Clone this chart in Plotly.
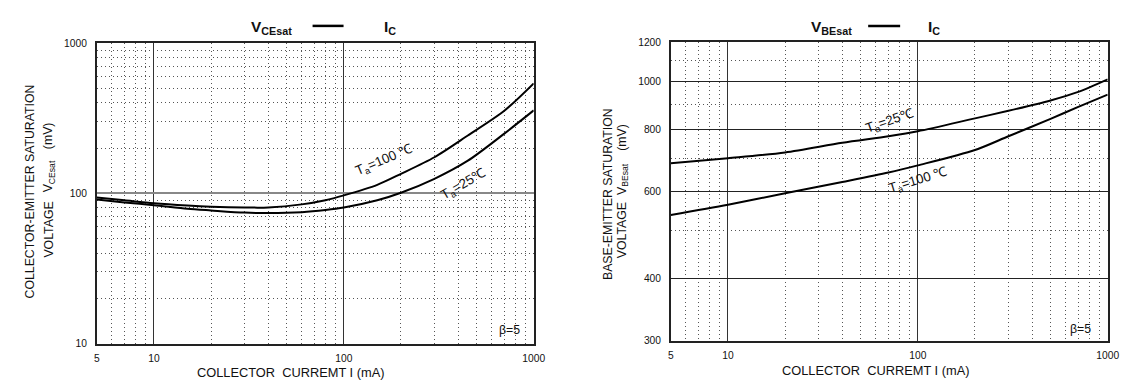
import math
import plotly.graph_objects as go

# ---- data ----
ic_ce = [5, 7, 10, 15, 20, 30, 40, 60, 80, 100, 150, 200, 300, 450, 700, 1000]
vce_100 = [94, 90, 86, 83, 81.5, 80.5, 80.6, 84.5, 90, 97, 114, 135, 174, 243, 355, 540]
vce_25 = [91, 87, 83.5, 79, 77, 74.5, 74, 75, 77.5, 80.5, 90, 101, 125, 165, 250, 357]

ic_be = [5, 10, 20, 40, 70, 100, 200, 300, 500, 700, 1000]
vbe_25 = [684, 700, 719, 752, 775, 793, 842, 872, 915, 952, 1009]
vbe_100 = [538, 564, 595, 627, 655, 677, 727, 775, 840, 888, 940]

x_major = [5, 10, 100, 1000]
x_minor = [6, 7, 8, 9, 20, 30, 40, 50, 60, 70, 80, 90, 200, 300, 400, 500, 600, 700, 800, 900]
y1_major = [10, 100, 1000]
y1_minor = [20, 30, 40, 50, 60, 70, 80, 90, 200, 300, 400, 500, 600, 700, 800, 900]
y2_major = [300, 400, 600, 800, 1000, 1200]
y2_minor = [500, 700, 900, 1100]

W, H = 1126, 381
FONT = "Liberation Sans, Arial, sans-serif"
FS = 1.0 / 0.975  # font compensation


def px(xp):
    return ((xp - 2.2) / 0.9874) / W


def py(yp):
    return 1 - ((yp - 5.2) / 0.9666) / H


fig = go.Figure()
line = dict(color="black", width=2, shape="spline", smoothing=0.8)
fig.add_trace(go.Scatter(x=ic_ce, y=vce_100, mode="lines", line=line, xaxis="x", yaxis="y", showlegend=False))
fig.add_trace(go.Scatter(x=ic_ce, y=vce_25, mode="lines", line=line, xaxis="x", yaxis="y", showlegend=False))
fig.add_trace(go.Scatter(x=ic_be, y=vbe_25, mode="lines", line=line, xaxis="x2", yaxis="y2", showlegend=False))
fig.add_trace(go.Scatter(x=ic_be, y=vbe_100, mode="lines", line=line, xaxis="x2", yaxis="y2", showlegend=False))

DOT = "1px,3px"


def xaxis(domain, anchor):
    return dict(
        type="log", range=[math.log10(5), 3], domain=domain, anchor=anchor,
        tickmode="array", tickvals=x_major, ticktext=[str(v) for v in x_major],
        showgrid=True, gridcolor="#333", gridwidth=1,
        minor=dict(tickmode="array", tickvals=x_minor, showgrid=True, griddash=DOT,
                   gridcolor="#555", gridwidth=1, ticks=""),
        showline=True, mirror=True, linecolor="#222", linewidth=1.5,
        zeroline=False, ticks="", ticklabelstandoff=4,
        tickfont=dict(family=FONT, size=10 * FS, color="#111"),
    )


def yaxis(domain, anchor, rng, major, minor, gridcolor, gridwidth):
    return dict(
        type="log", range=rng, domain=domain, anchor=anchor,
        tickmode="array", tickvals=major, ticktext=[str(v) for v in major],
        showgrid=True, gridcolor=gridcolor, gridwidth=gridwidth,
        minor=dict(tickmode="array", tickvals=minor, showgrid=True, griddash=DOT,
                   gridcolor="#555", gridwidth=1, ticks=""),
        showline=True, mirror=True, linecolor="#222", linewidth=1.5,
        zeroline=False, ticks="", ticklabelstandoff=6,
        tickfont=dict(family=FONT, size=10 * FS, color="#111"),
    )


fig.update_layout(
    autosize=True,
    margin=dict(l=0, r=0, t=0, b=0),
    paper_bgcolor="white", plot_bgcolor="white",
    font=dict(family=FONT, color="#111"),
    xaxis=xaxis([px(96), px(533.3)], "y"),
    yaxis=yaxis([py(342.2), py(43.2)], "x", [1, 3], y1_major, y1_minor, "#888", 2),
    xaxis2=xaxis([px(670.5), px(1107.7)], "y2"),
    yaxis2=yaxis([py(339.5), py(42)], "x2", [math.log10(300), math.log10(1200)],
                 y2_major, y2_minor, "#222", 1),
)

ann = []


def add(text, x, y, size=12, angle=0, xanchor="center", yanchor="middle"):
    ann.append(dict(text=text, x=px(x), y=py(y), xref="paper", yref="paper",
                    showarrow=False, textangle=angle, xanchor=xanchor, yanchor=yanchor,
                    font=dict(family=FONT, size=size * FS, color="#111")))


# titles
add("<b>V<sub>CEsat</sub></b>", 248, 28, size=15, xanchor="left")
add("<b>I<sub>C</sub></b>", 381, 28, size=15, xanchor="left")
add("<b>V<sub>BEsat</sub></b>", 809, 28, size=15, xanchor="left")
add("<b>I<sub>C</sub></b>", 926, 28, size=15, xanchor="left")

# x-axis titles
add("COLLECTOR\u00a0 CURREMT I (mA)", 290, 371, size=12.5)
add("COLLECTOR\u00a0 CURREMT I (mA)", 875, 369, size=12.5)

# y-axis titles (left)
add("COLLECTOR-EMITTER SATURATION", 29, 191, size=12, angle=-90)
add("VOLTAGE", 48, 229, size=12, angle=-90)
add("V<sub>CEsat</sub>", 48, 176, size=12, angle=-90)
add("(mV)", 48, 135, size=12, angle=-90)

# y-axis titles (right)
add("BASE-EMITTER SATURATION", 607, 193, size=12, angle=-90)
add("VOLTAGE", 622, 229, size=12, angle=-90)
add("V<sub>BEsat</sub>", 622, 178, size=12, angle=-90)
add("(mV)", 622, 137, size=12, angle=-90)

# curve labels
add("T<sub>a</sub>=100 \u2103", 383, 160, size=13, angle=-23)
add("T<sub>a</sub>=25\u2103", 463, 184, size=13, angle=-30)
add("T<sub>a</sub>=25\u2103", 889, 121, size=13, angle=-19)
add("T<sub>a</sub>=100 \u2103", 918, 180, size=13, angle=-17)

# beta labels
add("\u03b2=5", 509, 329, size=12)
add("\u03b2=5", 1080, 328, size=12)

fig.update_layout(annotations=ann)

# dash between V and I in titles
for x0, x1 in [(312, 343), (868, 900)]:
    fig.add_shape(type="line", xref="paper", yref="paper", x0=px(x0), x1=px(x1),
                  y0=py(26), y1=py(26), line=dict(color="black", width=2.5))

post = (
    "document.documentElement.style.margin='0';"
    "document.documentElement.style.overflow='hidden';"
    "document.body.style.margin='0';"
    "document.body.style.overflow='hidden';"
    "Plotly.Plots.resize(document.getElementById('{plot_id}'));"
)

fig.write_html(
    "out.html",
    default_width="100vw",
    default_height="100vh",
    config={"displayModeBar": False, "responsive": True},
    post_script=post,
)
